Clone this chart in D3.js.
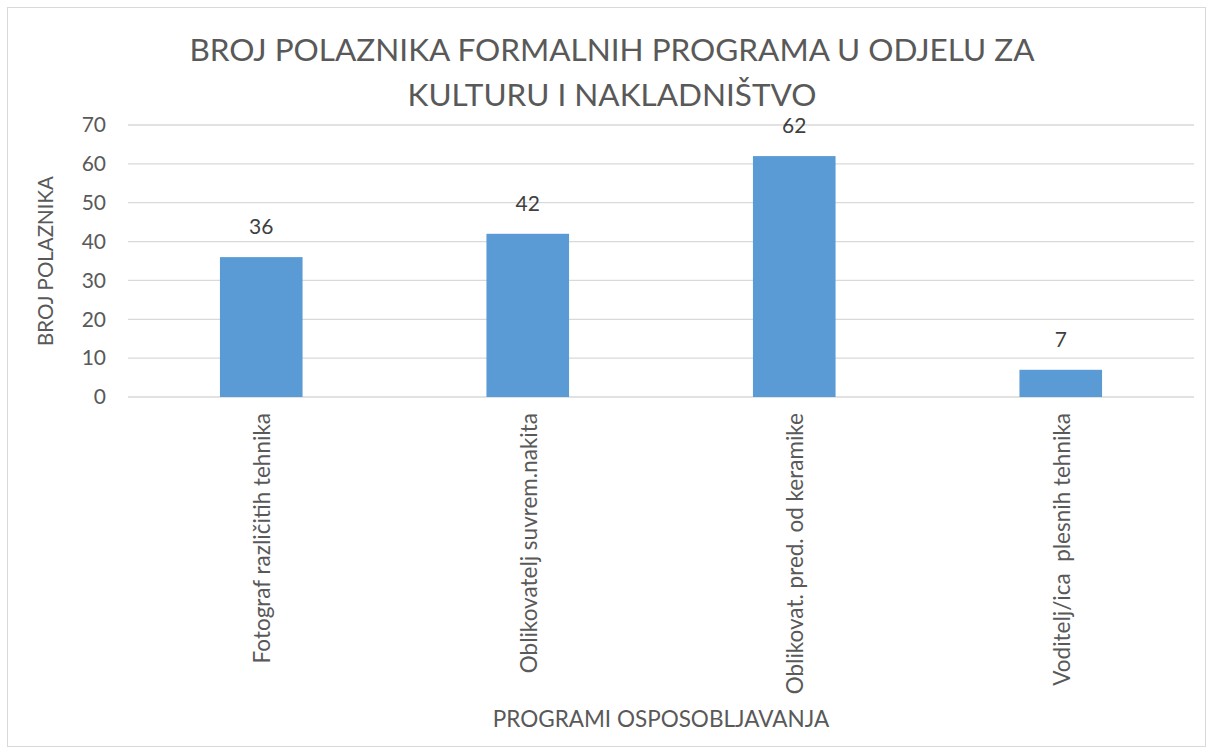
<!DOCTYPE html>
<html>
<head>
<meta charset="utf-8">
<script src="https://cdn.jsdelivr.net/npm/d3@7"></script>
<style>
  body { margin: 0; background: #fff; }
  text { font-family: Lato, "Liberation Sans", sans-serif; fill: #595959; white-space: pre; }
</style>
</head>
<body>
<svg id="chart" width="1213" height="754"></svg>
<script>
const categories = [
    'Fotograf različitih tehnika',
    'Oblikovatelj suvrem.nakita',
    'Oblikovat. pred. od keramike',
    'Voditelj/ica  plesnih tehnika'
];
const values = [36, 42, 62, 7];
const yTicks = [0, 10, 20, 30, 40, 50, 60, 70];
const titleLines = ['BROJ POLAZNIKA FORMALNIH PROGRAMA U ODJELU ZA', 'KULTURU I NAKLADNIŠTVO'];
const yTitle = 'BROJ POLAZNIKA';
const xTitle = 'PROGRAMI OSPOSOBLJAVANJA';

const width = 1213, height = 754;
const margin = {top: 125, right: 19, bottom: 357, left: 128};
const plotW = width - margin.left - margin.right;
const plotH = height - margin.top - margin.bottom;

let svg = d3.select('#chart');

// outer chart border
svg.append('rect')
    .attr('x', 7.5)
    .attr('y', 7.5)
    .attr('width', width - 15)
    .attr('height', height - 15)
    .attr('fill', 'none')
    .attr('stroke', '#d9d9d9');

let g = svg.append('g')
    .attr('transform', `translate(${margin.left},${margin.top})`);

let xScale = d3.scaleBand()
    .domain(categories)
    .range([0, plotW])
    .paddingInner(0.69)
    .paddingOuter(0.345);

let yScale = d3.scaleLinear()
    .domain([0, 70])
    .range([plotH, 0]);

// gridlines
g.selectAll('line.grid')
    .data(yTicks)
    .join('line')
    .attr('class', 'grid')
    .attr('x1', 0)
    .attr('x2', plotW)
    .attr('y1', d => yScale(d))
    .attr('y2', d => yScale(d))
    .attr('stroke', '#d9d9d9')
    .attr('stroke-width', 1.3);

// y tick labels
g.selectAll('text.ytick')
    .data(yTicks)
    .join('text')
    .attr('class', 'ytick')
    .attr('x', -22)
    .attr('y', d => yScale(d))
    .attr('dy', '0.35em')
    .attr('text-anchor', 'end')
    .attr('font-size', 21)
    .text(d => d);

// bars
g.selectAll('rect.bar')
    .data(values)
    .join('rect')
    .attr('class', 'bar')
    .attr('x', (d,i) => xScale(categories[i]))
    .attr('y', d => yScale(d))
    .attr('width', xScale.bandwidth())
    .attr('height', d => plotH - yScale(d))
    .attr('fill', '#5b9bd5');

// data labels
g.selectAll('text.value')
    .data(values)
    .join('text')
    .attr('class', 'value')
    .attr('x', (d,i) => xScale(categories[i]) + xScale.bandwidth()/2)
    .attr('y', d => yScale(d) - 23)
    .attr('text-anchor', 'middle')
    .attr('font-size', 21)
    .style('fill', '#404040')
    .text(d => d);

// category labels, rotated
g.selectAll('text.xtick')
    .data(categories)
    .join('text')
    .attr('class', 'xtick')
    .attr('transform', d => `translate(${xScale(d) + xScale.bandwidth()/2 + 1},${plotH + 16}) rotate(-90)`)
    .attr('text-anchor', 'end')
    .attr('dy', '0.35em')
    .attr('font-size', 22.5)
    .text(d => d);

// axis titles
svg.append('text')
    .attr('transform', `translate(46,${margin.top + plotH/2}) rotate(-90)`)
    .attr('text-anchor', 'middle')
    .attr('dy', '0.35em')
    .attr('font-size', 20.5)
    .text(yTitle);

svg.append('text')
    .attr('x', margin.left + plotW/2)
    .attr('y', 727)
    .attr('text-anchor', 'middle')
    .attr('font-size', 22.5)
    .text(xTitle);

// title
svg.selectAll('text.title')
    .data(titleLines)
    .join('text')
    .attr('class', 'title')
    .attr('x', 612)
    .attr('y', (d,i) => 61 + i * 45)
    .attr('text-anchor', 'middle')
    .attr('font-size', 31.5)
    .text(d => d);
</script>
</body>
</html>
